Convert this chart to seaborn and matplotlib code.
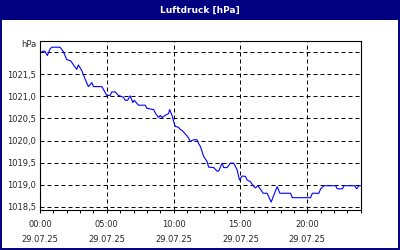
import matplotlib
matplotlib.use("Agg")
import matplotlib.pyplot as plt
from matplotlib.patches import Rectangle
from matplotlib.ticker import MultipleLocator
import seaborn as sns
import pandas as pd

# ---- data (hours since 29.07.25 00:00, pressure in hPa) ----
hours = [0.05, 0.25, 0.375, 0.55, 0.75, 0.88, 1.5, 1.75, 2.0, 2.3, 2.55, 2.75, 2.87, 3.13,
         3.375, 3.62, 3.88, 4.0, 4.63, 5.0, 5.25, 5.38, 5.63, 5.87, 6.25, 6.375, 6.55, 6.75,
         6.95, 7.05, 7.2, 7.37, 7.875, 8.0, 8.5, 8.7, 8.87, 9.0, 9.13, 9.375, 9.62, 9.7, 9.88,
         10.0, 10.125, 10.37, 10.5, 10.63, 10.875, 11.12, 11.25, 11.5, 11.75, 11.87, 12.0,
         12.25, 12.5, 12.62, 13.0, 13.25, 13.37, 13.63, 13.75, 14.0, 14.25, 14.5, 14.75,
         14.93, 15.13, 15.375, 15.5, 15.75, 15.95, 16.125, 16.3, 16.5, 16.7, 17.0, 17.3,
         17.5, 17.75, 17.95, 18.75, 18.88, 20.0, 20.25, 20.38, 20.87, 21.0, 21.25, 22.125,
         22.25, 22.63, 22.75, 23.55, 23.7, 23.87, 24.0]
pressure = [1021.99, 1022.02, 1022.02, 1021.92, 1022.07, 1022.11, 1022.11, 1022.01, 1021.83,
            1021.80, 1021.69, 1021.61, 1021.71, 1021.58, 1021.39, 1021.22, 1021.31, 1021.22,
            1021.22, 1021.02, 1021.02, 1021.10, 1021.10, 1021.02, 1020.98, 1020.91, 1020.91,
            1021.01, 1020.86, 1020.91, 1020.86, 1020.80, 1020.80, 1020.73, 1020.70, 1020.59,
            1020.52, 1020.57, 1020.52, 1020.57, 1020.61, 1020.70, 1020.57, 1020.43, 1020.32,
            1020.30, 1020.25, 1020.23, 1020.15, 1020.06, 1019.98, 1020.02, 1020.02, 1019.93,
            1019.87, 1019.64, 1019.53, 1019.40, 1019.39, 1019.31, 1019.31, 1019.49, 1019.39,
            1019.39, 1019.49, 1019.49, 1019.34, 1019.11, 1019.20, 1019.19, 1019.11, 1019.07,
            1018.98, 1018.93, 1018.98, 1018.90, 1018.81, 1018.81, 1018.61, 1018.77, 1018.96,
            1018.81, 1018.81, 1018.71, 1018.71, 1018.71, 1018.81, 1018.81, 1018.91, 1018.98,
            1018.98, 1018.91, 1018.91, 1018.98, 1018.98, 1018.91, 1018.98, 1018.98]

x_tick_hours = [0, 5, 10, 15, 20]
x_tick_labels = ["00:00\n29.07.25", "05:00\n29.07.25", "10:00\n29.07.25",
                 "15:00\n29.07.25", "20:00\n29.07.25"]
y_ticks = [1018.5, 1019.0, 1019.5, 1020.0, 1020.5, 1021.0, 1021.5]
y_tick_labels = ["1018,5", "1019,0", "1019,5", "1020,0", "1020,5", "1021,0", "1021,5"]
title = "Luftdruck [hPa]"
unit = "hPa"

NAVY = "#000080"

sns.set_style("white")
plt.rcParams['font.family'] = ['DejaVu Sans']

fig = plt.figure(figsize=(4, 2.5), dpi=100, facecolor="white")
W, H = 400, 250

# title bar and window border
fig.patches.append(Rectangle((0, 1 - 20 / H), 1, 20 / H, transform=fig.transFigure,
                             facecolor=NAVY, edgecolor="none", zorder=0))
fig.patches.append(Rectangle((0.5 / W, 1.5 / H), (W - 1.5) / W, (H - 2) / H,
                             transform=fig.transFigure, facecolor="none",
                             edgecolor=NAVY, linewidth=1.4, zorder=0))
fig.text(0.5, 1 - 10.5 / H, title, color="white", fontsize=6.5, fontweight="bold",
         ha="center", va="center")

ax = fig.add_axes([40 / W, (H - 210.3) / H, (360.7 - 40) / W, (210.3 - 40.7) / H])
df = pd.DataFrame({"h": hours, "p": pressure})
sns.lineplot(data=df, x="h", y="p", ax=ax, color="#0000ff", linewidth=0.8,
             estimator=None, sort=False)

ax.set_xlim(0, 24)
ax.set_ylim(1018.425, 1022.257)
ax.set_xlabel("")
ax.set_ylabel("")

ax.set_xticks(x_tick_hours)
ax.set_xticklabels(x_tick_labels, fontsize=6, linespacing=1.75)
ax.xaxis.set_minor_locator(MultipleLocator(1))
ax.set_yticks(y_ticks)
ax.set_yticklabels(y_tick_labels, fontsize=6)

ax.tick_params(axis="x", which="both", direction="out", length=2.3, width=0.7,
               color="black", pad=5, bottom=True)
ax.tick_params(axis="y", which="both", length=0, pad=3)

# grid
grid_kw = dict(color="black", linewidth=0.72, linestyle=(0, (4, 3)), zorder=1)
for yv in y_ticks + [1022.0]:
    ax.axhline(yv, **grid_kw)
for xv in x_tick_hours[1:]:
    ax.axvline(xv, **grid_kw)

for s in ax.spines.values():
    s.set_visible(True)
    s.set_color("black")
    s.set_linewidth(0.8)

fig.text(37 / W, 1 - 45 / H, unit, fontsize=6, ha="right", va="center")

fig.savefig("out.png", dpi=100, facecolor="white")
